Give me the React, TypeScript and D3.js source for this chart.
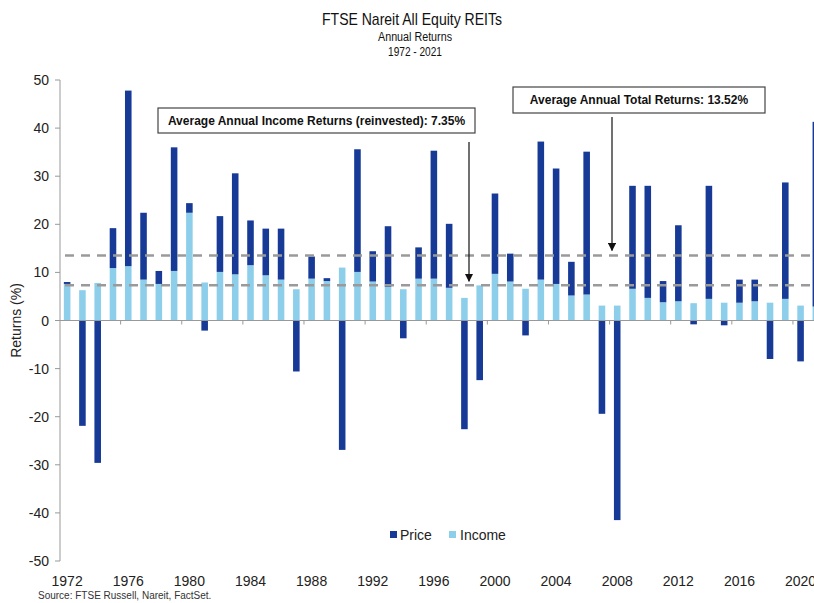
import React from 'react';
import * as d3 from 'd3';

const years = d3.range(1972, 2022).map(String);

// income (light) and price (dark) returns, %
const income = [
  7.6, 6.3, 7.8, 10.9, 11.3, 8.5, 7.6, 10.3, 22.4, 7.9,
  10.1, 9.6, 11.5, 9.4, 8.5, 6.5, 8.7, 8.2, 11.0, 10.1,
  8.1, 7.0, 6.5, 8.7, 8.7, 6.8, 4.7, 7.3, 9.7, 8.1,
  6.6, 8.5, 7.6, 5.2, 5.4, 3.1, 3.1, 6.6, 4.7, 3.8,
  4.0, 3.6, 4.5, 3.7, 3.7, 4.0, 3.7, 4.5, 3.1, 2.9,
];
const price = [
  0.4, -21.9, -29.6, 8.3, 36.5, 13.9, 2.7, 25.7, 2.0, -2.1,
  11.6, 21.0, 9.3, 9.7, 10.6, -10.6, 4.6, 0.6, -26.9, 25.5,
  6.3, 12.6, -3.7, 6.5, 26.6, 13.3, -22.6, -12.4, 16.7, 5.8,
  -3.1, 28.7, 24.0, 7.0, 29.7, -19.4, -41.5, 21.4, 23.3, 4.4,
  15.8, -0.8, 23.5, -1.0, 4.8, 4.5, -8.0, 24.2, -8.5, 38.4,
];
const yTicks = [50, 40, 30, 20, 10, 0, -10, -20, -30, -40, -50];
const avgIncome = 7.35;
const avgTotal = 13.52;

const darkBlue = '#173a97';
const lightBlue = '#8dcfeb';
const font = '"Liberation Sans", Arial, sans-serif';

export default function App() {
  const width = 814;
  const height = 603;
  const left = 59.5;
  const x = d3.scaleBand().domain(years).range([left, left + 50 * 15.28]).paddingInner(0.57).paddingOuter(0.285);
  const y = d3.scaleLinear().domain([-50, 50]).range([561, 80]);
  const bw = x.bandwidth();
  const step = x.step();

  return (
    <svg width={width} height={height} style={{ position: 'absolute', left: 0, top: 0, fontFamily: font }}>
      <rect width={width} height={height} fill="#fff" />
      {/* titles */}
      <text x={412} y={25} textAnchor="middle" fontSize={17} fill="#111" textLength={180} lengthAdjust="spacingAndGlyphs">FTSE Nareit All Equity REITs</text>
      <text x={415} y={41} textAnchor="middle" fontSize={12} fill="#111" textLength={74} lengthAdjust="spacingAndGlyphs">Annual  Returns</text>
      <text x={415} y={56} textAnchor="middle" fontSize={12} fill="#111" textLength={54} lengthAdjust="spacingAndGlyphs">1972 - 2021</text>

      {/* bars */}
      {years.map((yr, i) => {
        const bx = x(yr)!;
        const p = price[i];
        const inc = income[i];
        return (
          <g key={yr}>
            <rect x={bx} y={y(inc)} width={bw} height={y(0) - y(inc)} fill={lightBlue} />
            {p >= 0 ? (
              <rect x={bx} y={y(inc + p)} width={bw} height={y(inc) - y(inc + p)} fill={darkBlue} />
            ) : (
              <rect x={bx} y={y(0)} width={bw} height={y(p) - y(0)} fill={darkBlue} />
            )}
          </g>
        );
      })}

      {/* average lines */}
      {[avgTotal, avgIncome].map((v) => (
        <line key={v} x1={65} x2={width} y1={y(v)} y2={y(v)} stroke="#9a9a9a" strokeWidth={2.5} strokeDasharray="9,7" />
      ))}

      {/* axes */}
      <line x1={60} x2={60} y1={y(50)} y2={y(-50)} stroke="#999" strokeWidth={1} />
      {yTicks.map((t) => (
        <g key={t}>
          <line x1={55} x2={60} y1={y(t)} y2={y(t)} stroke="#999" />
          <text x={49} y={y(t) + 5} textAnchor="end" fontSize={14} fill="#222">{t}</text>
        </g>
      ))}
      <line x1={60} x2={width} y1={y(0)} y2={y(0)} stroke="#999" strokeWidth={1.2} />
      {years.map((yr, i) => (i % 4 === 0 && i > 0 ? (
        <line key={yr} x1={left + i * step} x2={left + i * step} y1={y(0)} y2={y(0) + 4} stroke="#999" />
      ) : null))}
      {years.map((yr, i) => (i % 4 === 0 ? (
        <text key={yr} x={x(yr)! + bw / 2} y={586} textAnchor="middle" fontSize={14} fill="#222">{yr}</text>
      ) : null))}
      <text transform={`translate(21,${y(0)}) rotate(-90)`} textAnchor="middle" fontSize={14} fill="#222">Returns (%)</text>

      {/* annotations */}
      <rect x={158} y={108} width={317} height={25} fill="#fff" stroke="#444" strokeWidth={1.2} />
      <text x={316.5} y={125} textAnchor="middle" fontSize={12} fontWeight="bold" fill="#111">Average Annual Income Returns (reinvested): 7.35%</text>
      <rect x={513} y={87} width={252} height={26} fill="#fff" stroke="#444" strokeWidth={1.2} />
      <text x={639} y={104} textAnchor="middle" fontSize={12} fontWeight="bold" fill="#111">Average Annual Total Returns: 13.52%</text>
      <defs>
        <marker id="ah" viewBox="0 0 10 10" refX={9} refY={5} markerWidth={7} markerHeight={7} orient="auto">
          <path d="M0,0 L10,5 L0,10 z" fill="#111" />
        </marker>
      </defs>
      <line x1={469} x2={469} y1={142} y2={y(avgIncome) - 4} stroke="#111" strokeWidth={1.2} markerEnd="url(#ah)" />
      <line x1={612} x2={612} y1={117} y2={y(avgTotal) - 5} stroke="#111" strokeWidth={1.2} markerEnd="url(#ah)" />

      {/* legend */}
      <rect x={390} y={531} width={7} height={7} fill={darkBlue} />
      <text x={400} y={540} fontSize={14} fill="#222">Price</text>
      <rect x={449} y={531} width={7} height={7} fill={lightBlue} />
      <text x={460} y={540} fontSize={14} fill="#222">Income</text>

      <text x={38} y={599} fontSize={10} fill="#333">Source: FTSE Russell,  Nareit,  FactSet.</text>
    </svg>
  );
}
